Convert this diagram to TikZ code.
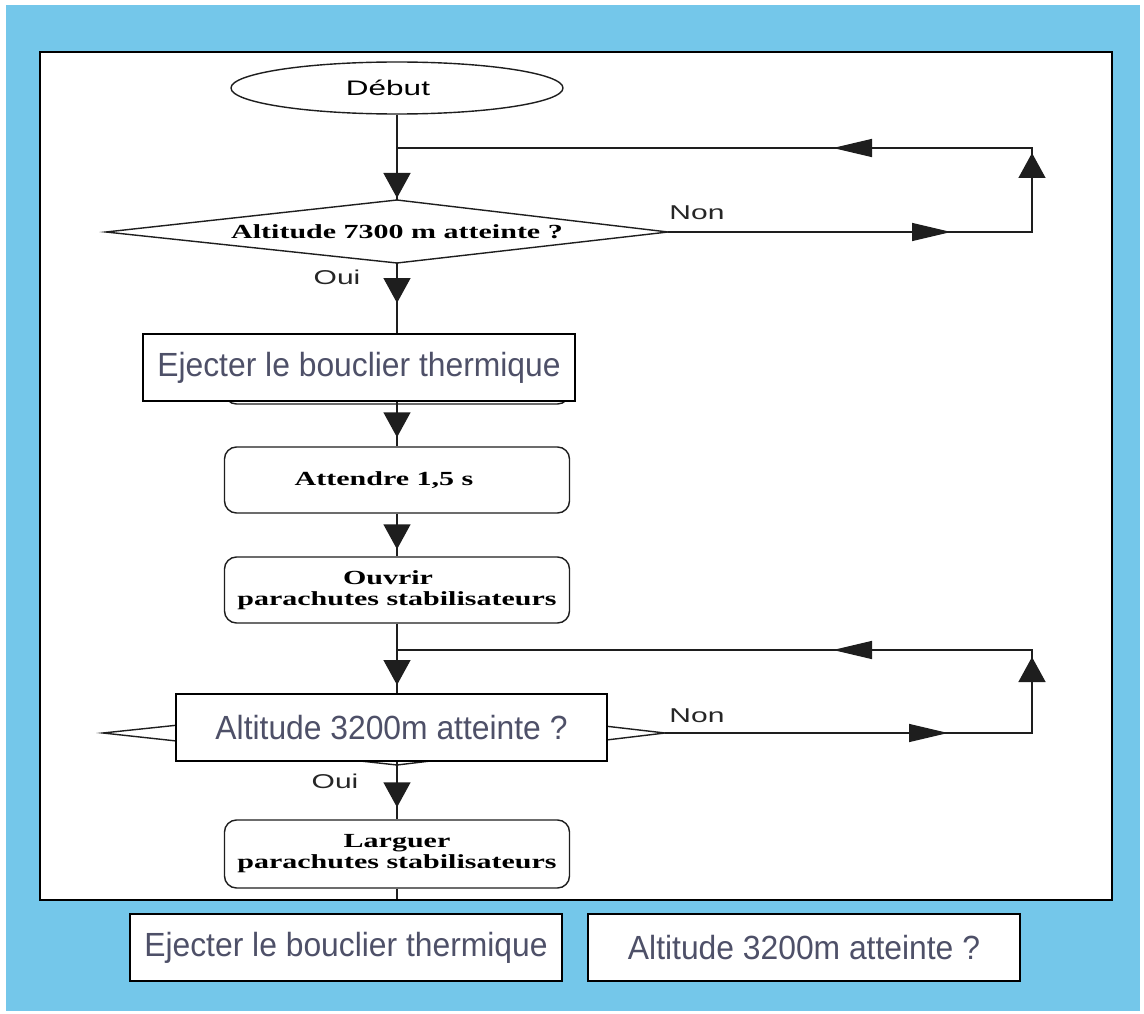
\documentclass[tikz,border=0pt]{standalone}
\usepackage{fontspec}
\setmainfont{Liberation Serif}
\setsansfont{Liberation Sans}
\newfontfamily\lblfont[FakeStretch=1.5]{Liberation Sans}
\newfontfamily\ovfont[FakeStretch=0.95]{Liberation Sans}
\newfontfamily\bserif[FakeStretch=1.5]{Liberation Serif}
\usetikzlibrary{arrows.meta,decorations.markings,shapes.geometric}
\definecolor{skyb}{RGB}{116,199,234}
\definecolor{ovtext}{RGB}{78,80,104}
\definecolor{lin}{RGB}{30,30,30}
\tikzset{
  vtip/.tip={Triangle[width=27pt,length=25pt]},
  htip/.tip={Triangle[width=18pt,length=39pt]},
  flow/.style={draw=lin, line width=1.4pt},
  rbox/.style={draw=lin, line width=1.4pt, rounded corners=12pt, fill=white,
    minimum width=345pt, minimum height=66pt, inner sep=0pt, align=center,
    font=\bserif\bfseries\fontsize{20}{21}\selectfont},
  ovbox/.style={draw=black, line width=2pt, fill=white, minimum width=432pt,
    minimum height=67pt, inner sep=0pt, text=ovtext,
    font=\ovfont\fontsize{33.5}{36}\selectfont},
  lbl/.style={font=\lblfont\fontsize{20}{22}\selectfont, text=black!85, inner sep=0pt},
  dtext/.style={font=\bserif\bfseries\fontsize{20}{22}\selectfont, inner sep=0pt},
  varr/.style={postaction={decorate}, decoration={markings,
    mark=at position #1 with {\arrow{vtip}}}},
  loopa/.style n args={3}{postaction={decorate}, decoration={markings,
    mark=at position #1 with {\arrow{htip}},
    mark=at position #2 with {\arrow{vtip}},
    mark=at position #3 with {\arrow{htip}}}}
}
\begin{document}
\begin{tikzpicture}[x=1pt,y=-1pt]
\useasboundingbox (0,0) rectangle (1144,1014);
\fill[white] (0,0) rectangle (1144,1014);
\fill[skyb] (6,5) rectangle (1140,1011);
% panel
\draw[fill=white, line width=2pt] (40,52) rectangle (1112,900);

% start
\node[draw=lin, line width=1.4pt, ellipse, minimum width=332pt, minimum height=52pt, inner sep=0pt,
  font=\lblfont\fontsize{21}{22}\selectfont] (deb) at (397,88) {\hspace*{-18pt}Début};

% decision 1
\coordinate (D1w) at (106,232);
\coordinate (D1n) at (397,200);
\coordinate (D1e) at (668,232);
\coordinate (D1s) at (397,263);
\draw[flow] (D1w) -- (D1n) -- (D1e) -- (D1s) -- cycle;
\node[dtext] (D1) at (397,232) {Altitude 7300 m atteinte ?};

% hidden original box
\node[rbox] (ejh) at (397,371) {};

% process boxes
\node[rbox] (att) at (397,480) {\hspace*{-26pt}Attendre 1,5 s};
\node[rbox] (ouv) at (397,590) {\hspace*{-18pt}Ouvrir\\parachutes stabilisateurs};

% decision 2
\coordinate (D2w) at (103,733);
\coordinate (D2n) at (397,702);
\coordinate (D2e) at (665,733);
\coordinate (D2s) at (397,765);
\draw[flow] (D2w) -- (D2n) -- (D2e) -- (D2s) -- cycle;

\node[rbox, minimum height=68pt] (lar) at (397,854) {Larguer\\parachutes stabilisateurs};
\coordinate (endc) at (397,899);

% junctions of loops
\coordinate (J1) at (397,148);
\coordinate (R1) at (1032,148);
\coordinate (J2) at (397,650);
\coordinate (R2) at (1032,650);

% overlay boxes
\node[ovbox] (ov1) at (359,367.5) {Ejecter le bouclier thermique};
\node[ovbox, minimum width=431pt] (ov2) at (391.5,727.5) {Altitude 3200m atteinte ?};

% connectors
\draw[flow, varr=-2pt] (deb.south) -- (D1n);
\draw[flow, varr=40pt] (D1s) -- (ov1.north -| D1s);
\draw[flow, varr=-9pt] (ov1.south -| att.north) -- (att.north);
\draw[flow, varr=-7pt] (att.south) -- (ouv.north);
\draw[flow, varr=-8pt] (ouv.south) -- (ov2.north -| ouv.south);
\draw[flow, varr=-12pt] (ov2.south -| lar.north) -- (lar.north);
\draw[flow] (lar.south) -- (endc);

\draw[flow, loopa={283pt}{443pt}{647pt}] (D1e) -| (R1) -- (J1);
\draw[flow, loopa={283pt}{443pt}{649pt}] (D2e) -| (R2) -- (J2);

% labels
\node[lbl] (non1) at (697,213) {Non};
\node[lbl] (oui1) at (337,277) {Oui};
\node[lbl] (non2) at (697,716) {Non};
\node[lbl] (oui2) at (335,781) {Oui};

% bottom boxes
\node[ovbox] (bt1) at (346,947.5) {Ejecter le bouclier thermique};
\node[ovbox] (bt2) at (804,947.5) {Altitude 3200m atteinte ?};
\end{tikzpicture}
\end{document}
